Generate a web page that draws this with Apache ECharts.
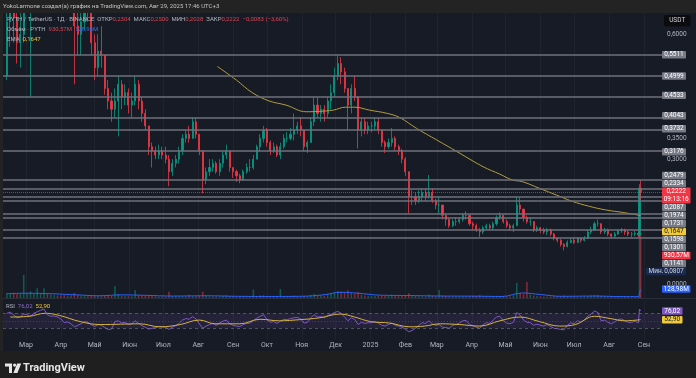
<!DOCTYPE html>
<html>
<head>
<meta charset="utf-8">
<script src="https://cdn.jsdelivr.net/npm/echarts@6/dist/echarts.min.js"></script>
<style>
  html, body { margin: 0; padding: 0; background: #222222; }
  #chart { width: 696px; height: 378px; }
</style>
</head>
<body>
<div id="chart"></div>
<script>
// PYTH / TetherUS, BINANCE. Свечи по 3 дня, последние два дня — дневные
const firstBarDay = '2024-02-13';
const barStepDays = 3;
const extraBarDays = ['2025-08-28', '2025-08-29'];
const firstOpen = 0.50;
const lastOpen = 0.2304;

const closes = [
  0.63, 0.66, 0.64, 0.58, 0.60, 0.70, 0.72, 0.74, 0.82, 0.95,
  1.05, 1.10, 0.95, 0.98, 1.02, 0.98, 0.92, 0.80, 0.82, 0.75,
  0.62, 0.60, 0.63, 0.68, 0.66, 0.58, 0.52, 0.56, 0.55, 0.47,
  0.44, 0.42, 0.44, 0.48, 0.45, 0.46, 0.43, 0.44, 0.48, 0.44,
  0.41, 0.38, 0.33, 0.32, 0.31, 0.32, 0.31, 0.30, 0.27, 0.29,
  0.30, 0.32, 0.35, 0.36, 0.35, 0.39, 0.36, 0.32, 0.25, 0.27,
  0.28, 0.29, 0.27, 0.29, 0.31, 0.32, 0.28, 0.27, 0.26, 0.25,
  0.27, 0.28, 0.28, 0.30, 0.33, 0.35, 0.37, 0.34, 0.32, 0.33,
  0.31, 0.33, 0.35, 0.35, 0.36, 0.37, 0.38, 0.37, 0.33, 0.34,
  0.39, 0.43, 0.41, 0.42, 0.41, 0.44, 0.46, 0.50, 0.53, 0.51,
  0.47, 0.43, 0.47, 0.45, 0.37, 0.39, 0.37, 0.38, 0.38, 0.39,
  0.37, 0.34, 0.33, 0.34, 0.35, 0.33, 0.32, 0.30, 0.27, 0.21,
  0.21, 0.20, 0.21, 0.22, 0.21, 0.22, 0.20, 0.19, 0.19, 0.165,
  0.155, 0.14, 0.15, 0.15, 0.155, 0.165, 0.165, 0.145, 0.14, 0.13,
  0.125, 0.135, 0.14, 0.135, 0.145, 0.16, 0.165, 0.15, 0.14, 0.135,
  0.14, 0.19, 0.18, 0.16, 0.15, 0.15, 0.13, 0.135, 0.13, 0.125,
  0.13, 0.12, 0.11, 0.105, 0.095, 0.09, 0.10, 0.105, 0.10, 0.11,
  0.105, 0.11, 0.125, 0.13, 0.145, 0.145, 0.125, 0.13, 0.12, 0.115,
  0.12, 0.128, 0.13, 0.125, 0.12, 0.12, 0.122, 0.118, 0.2305, 0.2222
];
const highs = [
  0.66, 0.72, 0.70, 0.68, 0.66, 0.74, 0.78, 0.82, 0.88, 1.00,
  1.12, 1.20, 1.10, 1.05, 1.08, 1.06, 1.00, 0.92, 0.86, 0.85,
  0.76, 0.68, 0.66, 0.72, 0.72, 0.67, 0.60, 0.60, 0.62, 0.55,
  0.49, 0.46, 0.47, 0.50, 0.49, 0.48, 0.47, 0.46, 0.50, 0.49,
  0.45, 0.42, 0.38, 0.34, 0.33, 0.335, 0.33, 0.33, 0.31, 0.30,
  0.31, 0.33, 0.36, 0.37, 0.38, 0.40, 0.40, 0.36, 0.32, 0.28,
  0.30, 0.30, 0.295, 0.30, 0.32, 0.335, 0.32, 0.28, 0.275, 0.265,
  0.275, 0.29, 0.30, 0.31, 0.335, 0.36, 0.38, 0.375, 0.345, 0.34,
  0.335, 0.34, 0.36, 0.365, 0.375, 0.41, 0.39, 0.40, 0.37, 0.345,
  0.40, 0.45, 0.45, 0.43, 0.43, 0.45, 0.48, 0.52, 0.55, 0.545,
  0.52, 0.47, 0.48, 0.50, 0.45, 0.40, 0.40, 0.39, 0.39, 0.40,
  0.40, 0.37, 0.345, 0.35, 0.375, 0.355, 0.335, 0.325, 0.305, 0.27,
  0.225, 0.22, 0.225, 0.23, 0.23, 0.262, 0.23, 0.205, 0.21, 0.19,
  0.17, 0.16, 0.155, 0.16, 0.16, 0.17, 0.175, 0.165, 0.15, 0.145,
  0.135, 0.14, 0.145, 0.145, 0.15, 0.165, 0.172, 0.165, 0.155, 0.145,
  0.145, 0.21, 0.208, 0.18, 0.165, 0.16, 0.15, 0.14, 0.137, 0.135,
  0.135, 0.133, 0.123, 0.112, 0.108, 0.098, 0.105, 0.11, 0.112, 0.113,
  0.112, 0.115, 0.13, 0.138, 0.15, 0.155, 0.145, 0.135, 0.133, 0.122,
  0.125, 0.132, 0.135, 0.133, 0.128, 0.125, 0.128, 0.125, 0.24, 0.25
];
const lows = [
  0.49, 0.57, 0.58, 0.53, 0.52, 0.58, 0.66, 0.45, 0.70, 0.82,
  0.92, 0.98, 0.85, 0.88, 0.95, 0.93, 0.88, 0.75, 0.76, 0.70,
  0.48, 0.55, 0.55, 0.61, 0.63, 0.55, 0.49, 0.50, 0.52, 0.455,
  0.42, 0.39, 0.40, 0.355, 0.42, 0.43, 0.41, 0.40, 0.43, 0.42,
  0.39, 0.37, 0.31, 0.28, 0.30, 0.30, 0.30, 0.29, 0.235, 0.26,
  0.28, 0.29, 0.31, 0.34, 0.34, 0.35, 0.35, 0.31, 0.218, 0.24,
  0.26, 0.27, 0.265, 0.26, 0.28, 0.30, 0.27, 0.255, 0.245, 0.242,
  0.25, 0.265, 0.27, 0.275, 0.30, 0.32, 0.34, 0.33, 0.31, 0.315,
  0.305, 0.30, 0.325, 0.34, 0.345, 0.345, 0.36, 0.355, 0.32, 0.315,
  0.34, 0.38, 0.40, 0.39, 0.39, 0.40, 0.42, 0.45, 0.49, 0.48,
  0.46, 0.37, 0.41, 0.44, 0.326, 0.355, 0.36, 0.36, 0.365, 0.37,
  0.36, 0.33, 0.315, 0.325, 0.33, 0.32, 0.31, 0.29, 0.26, 0.17,
  0.19, 0.19, 0.195, 0.20, 0.20, 0.205, 0.195, 0.18, 0.17, 0.155,
  0.14, 0.135, 0.137, 0.14, 0.145, 0.15, 0.155, 0.14, 0.13, 0.125,
  0.113, 0.12, 0.13, 0.13, 0.13, 0.14, 0.155, 0.145, 0.135, 0.128,
  0.125, 0.14, 0.17, 0.15, 0.145, 0.14, 0.125, 0.125, 0.122, 0.12,
  0.118, 0.115, 0.105, 0.10, 0.09, 0.0807, 0.088, 0.098, 0.096, 0.098,
  0.10, 0.102, 0.108, 0.12, 0.128, 0.138, 0.12, 0.12, 0.115, 0.11,
  0.112, 0.118, 0.123, 0.118, 0.115, 0.112, 0.115, 0.112, 0.113, 0.2028
];
// объём, млн PYTH в день
const volumes = [
  70, 60, 75, 55, 65, 330, 70, 95, 60, 140,
  70, 140, 60, 45, 40, 35, 38, 45, 35, 40,
  70, 40, 30, 28, 25, 30, 38, 30, 26, 35,
  30, 28, 170, 55, 35, 30, 25, 25, 115, 35,
  30, 28, 38, 32, 22, 20, 22, 20, 90, 30,
  22, 22, 25, 22, 45, 28, 25, 35, 90, 30,
  22, 20, 20, 22, 28, 40, 25, 20, 20, 22,
  20, 18, 20, 120, 30, 35, 40, 25, 20, 20,
  22, 130, 25, 22, 22, 35, 25, 22, 25, 22,
  45, 60, 45, 35, 35, 50, 65, 80, 100, 90,
  85, 110, 70, 60, 85, 45, 35, 30, 28, 30,
  32, 30, 28, 30, 45, 32, 25, 28, 35, 70,
  40, 30, 25, 22, 22, 50, 28, 22, 115, 35,
  28, 22, 20, 20, 22, 25, 22, 22, 25, 30,
  40, 25, 22, 20, 22, 28, 25, 22, 20, 20,
  40, 215, 70, 55, 230, 50, 35, 28, 25, 22,
  22, 20, 22, 22, 25, 35, 25, 20, 18, 18,
  18, 20, 28, 35, 45, 40, 30, 25, 22, 18,
  18, 20, 22, 20, 18, 18, 18, 20, 1000, 930.57
];
const rsiValues = [
  70, 73, 66, 58, 60, 68, 66, 62, 70, 74,
  78, 81, 66, 62, 63, 60, 55, 45, 47, 42,
  34, 38, 42, 48, 46, 40, 35, 40, 38, 32,
  27, 28, 48, 50, 44, 46, 40, 42, 50, 43,
  37, 33, 28, 30, 32, 35, 34, 33, 27, 33,
  37, 43, 52, 56, 54, 61, 55, 42, 30, 36,
  40, 43, 38, 44, 49, 52, 42, 38, 36, 35,
  40, 43, 44, 50, 57, 62, 66, 54, 46, 48,
  43, 49, 54, 53, 56, 58, 59, 55, 44, 46,
  58, 66, 60, 61, 58, 64, 67, 72, 75, 70,
  60, 50, 58, 54, 40, 46, 43, 45, 45, 48,
  44, 38, 36, 40, 44, 38, 36, 33, 28, 21,
  24, 30, 38, 45, 43, 50, 42, 38, 40, 33,
  32, 30, 38, 40, 44, 50, 51, 40, 37, 33,
  30, 40, 45, 43, 52, 60, 62, 50, 44, 42,
  46, 72, 65, 52, 46, 45, 38, 41, 38, 36,
  40, 35, 30, 29, 27, 26, 38, 45, 42, 50,
  47, 52, 62, 68, 76, 72, 50, 52, 46, 42,
  47, 53, 55, 50, 46, 46, 49, 45, 81, 76.02
];
const emaPoints = [
  ['2024-08-18', 0.523], ['2024-09-04', 0.49], ['2024-09-18', 0.46], ['2024-10-03', 0.44],
  ['2024-10-18', 0.43], ['2024-11-05', 0.414], ['2024-11-17', 0.415], ['2024-11-29', 0.418],
  ['2024-12-10', 0.425], ['2024-12-18', 0.425], ['2024-12-31', 0.418], ['2025-01-16', 0.41],
  ['2025-01-27', 0.40], ['2025-02-11', 0.374], ['2025-03-01', 0.346], ['2025-03-19', 0.318],
  ['2025-04-11', 0.282], ['2025-04-26', 0.264], ['2025-05-07', 0.25], ['2025-05-16', 0.246],
  ['2025-05-31', 0.23], ['2025-06-15', 0.214], ['2025-06-29', 0.199], ['2025-07-14', 0.187],
  ['2025-07-29', 0.178], ['2025-08-13', 0.172], ['2025-08-29', 0.1647]
];
const volMaPoints = [
  ['2024-02-13', 62], ['2024-03-01', 68], ['2024-03-25', 60], ['2024-04-15', 45], ['2024-05-05', 32],
  ['2024-05-25', 45], ['2024-06-15', 38], ['2024-07-10', 28], ['2024-08-08', 32], ['2024-09-05', 24],
  ['2024-10-05', 22], ['2024-11-01', 25], ['2024-11-20', 45], ['2024-12-06', 82], ['2024-12-20', 70],
  ['2025-01-10', 40], ['2025-02-06', 35], ['2025-03-05', 28], ['2025-04-05', 26], ['2025-04-28', 22],
  ['2025-05-16', 72], ['2025-06-01', 50], ['2025-06-20', 24], ['2025-07-20', 28], ['2025-08-12', 20],
  ['2025-08-27', 20], ['2025-08-28', 70], ['2025-08-29', 128.98]
];
const rsiMaPoints = [
  ['2024-02-16', 60], ['2024-03-04', 62], ['2024-03-18', 70], ['2024-03-31', 64], ['2024-04-18', 48],
  ['2024-05-06', 40], ['2024-05-24', 41], ['2024-06-10', 42], ['2024-06-28', 34], ['2024-07-16', 40],
  ['2024-08-02', 52], ['2024-08-16', 42], ['2024-09-07', 42], ['2024-09-25', 54], ['2024-10-12', 50],
  ['2024-10-30', 53], ['2024-11-17', 58], ['2024-12-05', 68], ['2024-12-18', 60], ['2025-01-01', 48],
  ['2025-01-18', 44], ['2025-02-05', 34], ['2025-02-18', 36], ['2025-03-04', 42], ['2025-03-21', 40],
  ['2025-04-08', 36], ['2025-04-26', 50], ['2025-05-14', 60], ['2025-05-31', 48], ['2025-06-18', 36],
  ['2025-07-02', 40], ['2025-07-19', 62], ['2025-08-02', 56], ['2025-08-15', 50], ['2025-08-29', 52.9]
];
// горизонтальные уровни, нарисованные на графике
const levelLines = [0.5511, 0.4999, 0.4533, 0.4043, 0.3732, 0.3176, 0.2479, 0.2334, 0.2087, 0.1974, 0.1731, 0.1598, 0.1301, 0.1141];
const lastChange = -0.0083;
const lastChangePct = -3.60;
const emaLast = 0.1647;
const volMaLast = 128.98;
const visibleMin = 0.0807;
const rsiMaLast = 52.90;
const countdown = '09:13:16';
const priceTicks = [0, 0.3, 0.35, 0.6];
const monthTicks = ['2024-03-01', '2024-04-01', '2024-05-01', '2024-06-01', '2024-07-01', '2024-08-01',
  '2024-09-01', '2024-10-01', '2024-11-01', '2024-12-01', '2025-01-01', '2025-02-01', '2025-03-01',
  '2025-04-01', '2025-05-01', '2025-06-01', '2025-07-01', '2025-08-01', '2025-09-01'];
const monthNames = ['Янв', 'Фев', 'Мар', 'Апр', 'Май', 'Июн', 'Июл', 'Авг', 'Сен', 'Окт', 'Ноя', 'Дек'];

const DAY = 86400000;
const UP = '#089981';
const DOWN = '#f23645';
const FONT = 'Roboto, "Noto Sans", sans-serif';
const fmt = (v, n) => v.toFixed(n).replace('.', ',').replace('-', '−');

const nThree = closes.length - extraBarDays.length;
const barTimes = [];
for (let i = 0; i < nThree; i++) barTimes.push(Date.parse(firstBarDay) + i * barStepDays * DAY);
extraBarDays.forEach(d => barTimes.push(Date.parse(d)));

const candles = closes.map((c, i) => {
  let o = i === 0 ? firstOpen : closes[i - 1];
  if (i === closes.length - 1) o = lastOpen;
  return [barTimes[i], o, c, Math.min(lows[i], o, c), Math.max(highs[i], o, c)];
});
const volData = volumes.map((v, i) => ({
  value: [barTimes[i], v],
  itemStyle: { color: candles[i][2] >= candles[i][1] ? 'rgba(8,153,129,0.5)' : 'rgba(242,54,69,0.5)' }
}));
const toPts = arr => arr.map(p => [Date.parse(p[0]), p[1]]);
const last = candles[candles.length - 1];
const lastVolume = volumes[volumes.length - 1];
const rsiLast = rsiValues[rsiValues.length - 1];

// ось времени как числовая (мс), подписи — по началам месяцев
const xMin = Date.UTC(2024, 1, 9, 14);
const xMax = Date.UTC(2025, 8, 17);
const monthValues = monthTicks.map(d => Date.parse(d));
const monthLabel = v => {
  const d = new Date(v);
  return d.getUTCMonth() === 0 ? String(d.getUTCFullYear()) : monthNames[d.getUTCMonth()];
};
const vGrid = { show: true, lineStyle: { color: 'rgba(255,255,255,0.04)', width: 1 } };

const chart = echarts.init(document.getElementById('chart'));

const option = {
  backgroundColor: '#171b26',
  animation: false,
  grid: [
    { left: 3, right: 34, top: 13, height: 285 },
    { left: 3, right: 34, top: 302, height: 37.6 }
  ],
  xAxis: [
    {
      type: 'value', gridIndex: 0, min: xMin, max: xMax,
      axisLine: { show: false },
      axisTick: { show: false, customValues: monthValues },
      axisLabel: { show: false, customValues: monthValues },
      splitLine: vGrid
    },
    {
      type: 'value', gridIndex: 1, min: xMin, max: xMax,
      axisLine: { show: false },
      axisTick: { show: false, customValues: monthValues },
      axisLabel: {
        customValues: monthValues, formatter: monthLabel,
        color: '#b2b5be', fontSize: 7, fontFamily: FONT, margin: 2, hideOverlap: false
      },
      splitLine: vGrid
    }
  ],
  yAxis: [
    {
      type: 'value', gridIndex: 0, position: 'right', min: -0.0337, max: 0.6514,
      axisLine: { show: false }, axisTick: { show: false }, splitLine: { show: false },
      axisLabel: {
        customValues: priceTicks, formatter: v => fmt(v, 4),
        color: '#b2b5be', fontSize: 6.5, fontFamily: FONT, margin: 5
      }
    },
    { type: 'value', gridIndex: 0, min: 0, max: 4080, show: false },
    { type: 'value', gridIndex: 1, min: 0, max: 100, show: false }
  ],
  series: [
    {
      name: 'Объём', type: 'bar', xAxisIndex: 0, yAxisIndex: 1,
      data: volData, barWidth: 1.6, z: 1
    },
    {
      name: 'Объём MA', type: 'line', xAxisIndex: 0, yAxisIndex: 1,
      data: toPts(volMaPoints), smooth: 0.4, showSymbol: false,
      lineStyle: { color: '#2962ff', width: 1 }, z: 1
    },
    {
      name: 'PYTH', type: 'candlestick', xAxisIndex: 0, yAxisIndex: 0,
      data: candles, encode: { x: 0, y: [1, 2, 3, 4] },
      barWidth: 1.6,
      itemStyle: { color: UP, color0: DOWN, borderColor: UP, borderColor0: DOWN, borderWidth: 0.8 },
      markLine: {
        silent: true, symbol: ['none', 'none'], animation: false,
        label: { show: false },
        data: levelLines.map(v => ({ yAxis: v, lineStyle: { color: '#6f727c', width: 1.5, type: 'solid' } }))
          .concat([{ yAxis: last[2], lineStyle: { color: DOWN, width: 1, type: 'dotted', opacity: 0.7 } }])
      }
    },
    {
      name: 'EMA', type: 'line', xAxisIndex: 0, yAxisIndex: 0,
      data: toPts(emaPoints), smooth: 0.4, showSymbol: false,
      lineStyle: { color: '#b39d3c', width: 1 }
    },
    {
      name: 'RSI', type: 'line', xAxisIndex: 1, yAxisIndex: 2,
      data: rsiValues.map((v, i) => [barTimes[i], v]), showSymbol: false,
      lineStyle: { color: '#7e57c2', width: 1 },
      markArea: {
        silent: true,
        itemStyle: { color: 'rgba(126,87,194,0.12)' },
        data: [[{ yAxis: 30 }, { yAxis: 70 }]]
      },
      markLine: {
        silent: true, symbol: ['none', 'none'], label: { show: false },
        data: [
          { yAxis: 70, lineStyle: { color: 'rgba(120,123,134,0.6)', type: [3, 3], width: 1 } },
          { yAxis: 50, lineStyle: { color: 'rgba(120,123,134,0.35)', type: [1, 2], width: 1 } },
          { yAxis: 30, lineStyle: { color: 'rgba(120,123,134,0.6)', type: [3, 3], width: 1 } }
        ]
      }
    },
    {
      name: 'RSI MA', type: 'line', xAxisIndex: 1, yAxisIndex: 2,
      data: toPts(rsiMaPoints), smooth: 0.4, showSymbol: false,
      lineStyle: { color: '#d6b43c', width: 1 }
    }
  ]
};

chart.setOption(option);

// подписи поверх графика и на шкале цены
const LEG = 6;
const g = [];
const rect = (x, y, w, h, fill, r) => g.push({ type: 'rect', z: 100, shape: { x, y, width: w, height: h, r: r || 0 }, style: { fill } });
const text = (x, y, str, fill, size, align, weight) => g.push({
  type: 'text', z: 101, x, y,
  style: { text: str, fill, fontSize: size, fontFamily: FONT, fontWeight: weight || 'normal', align: align || 'left', verticalAlign: 'middle' }
});
const richText = (x, y, str) => g.push({
  type: 'text', z: 101, x, y,
  style: {
    text: str, fontSize: LEG, fontFamily: FONT, verticalAlign: 'middle', fill: '#b2b5be',
    rich: {
      g: { fill: '#b2b5be', fontSize: LEG, fontFamily: FONT },
      r: { fill: '#e0424f', fontSize: LEG, fontFamily: FONT },
      b: { fill: '#2f6cf0', fontSize: LEG, fontFamily: FONT },
      y: { fill: '#f0c93c', fontSize: LEG, fontFamily: FONT },
      p: { fill: '#8e6bd1', fontSize: LEG, fontFamily: FONT }
    }
  }
});

// рамка: шапка, низ, левая полоса
rect(0, 0, 696, 13, '#232323');
rect(0, 351, 696, 27, '#1f1f1f');
rect(0, 13, 3, 338, '#232323');
g.push({ type: 'line', z: 100, shape: { x1: 3, y1: 298.5, x2: 696, y2: 298.5 }, style: { stroke: '#2a2e39', lineWidth: 1 } });

text(3, 6.5, 'YokoLarmone создал(а) график на TradingView.com, Авг 29, 2025 17:46 UTC+3', '#c4c4c4', 6);

richText(7, 19.5, '{g|PYTH / TetherUS · 1Д · BINANCE}  {g|ОТКР}{r|' + fmt(last[1], 4) + '}  {g|МАКС}{r|' + fmt(last[4], 4) +
  '}  {g|МИН}{r|' + fmt(last[3], 4) + '}  {g|ЗАКР}{r|' + fmt(last[2], 4) + '}  {r|' + fmt(lastChange, 4) + ' (' + fmt(lastChangePct, 2) + '%)}');
richText(7, 29.5, '{g|Объём · PYTH}  {r|' + fmt(lastVolume, 2) + 'M}  {b|' + fmt(volMaLast, 2) + 'M}');
richText(7, 39.5, '{g|EMA}  {y|' + fmt(emaLast, 4) + '}');
richText(6, 306.5, '{g|RSI}  {p|' + fmt(rsiLast, 2) + '}  {y|' + fmt(rsiMaLast, 2) + '}');

// USDT
rect(664, 15, 26.5, 11.5, '#0c0c0e', 2);
text(677.2, 20.8, 'USDT', '#d1d4dc', 6.5, 'center');

// метки справа: текущая цена стоит на месте, остальные раздвигаются от неё
const ROW = 8;
const yPrice = v => chart.convertToPixel({ yAxisIndex: 0 }, v);
const yVol = v => chart.convertToPixel({ yAxisIndex: 1 }, v);
const yRsi = v => chart.convertToPixel({ yAxisIndex: 2 }, v);
const curY = yPrice(last[2]);
const tags = levelLines.map(v => ({ t: yPrice(v), label: fmt(v, 4), bg: '#787b86', fg: '#ffffff', w: 24 }))
  .concat([
    { t: yPrice(emaLast), label: fmt(emaLast, 4), bg: '#f0c93c', fg: '#131722', w: 24 },
    { t: yVol(lastVolume), label: fmt(lastVolume, 2) + 'M', bg: DOWN, fg: '#ffffff', w: 28.5 },
    { t: yPrice(visibleMin), label: fmt(visibleMin, 4), bg: '#1a2a50', fg: '#d1d4dc', w: 24, prefix: 'Мин.' }
  ]);
const above = tags.filter(d => d.t < curY).sort((a, b) => b.t - a.t);
let edge = curY - ROW / 2;
above.forEach(d => { d.y = Math.min(d.t, edge - ROW / 2); edge = d.y - ROW / 2; });
const below = tags.filter(d => d.t >= curY).sort((a, b) => a.t - b.t);
edge = curY + ROW * 1.5;
below.forEach(d => { d.y = Math.max(d.t, edge + ROW / 2); edge = d.y + ROW / 2; });

tags.forEach(d => {
  if (d.prefix) {
    rect(646, d.y - ROW / 2 + 0.3, 40, ROW - 0.6, d.bg, 1);
    text(648.5, d.y, d.prefix, d.fg, 6.5);
  } else {
    rect(662, d.y - ROW / 2 + 0.3, d.w, ROW - 0.6, d.bg, 1);
  }
  text(662 + d.w / 2, d.y, d.label, d.fg, 6.5, 'center');
});
rect(662, curY - ROW / 2, 28.5, ROW * 2, DOWN, 1);
text(676.2, curY, fmt(last[2], 4), '#ffffff', 6.5, 'center');
text(676.2, curY + ROW, countdown, '#ffffff', 6.5, 'center');

// объём MA
const maY = yVol(volMaLast);
rect(662, maY - ROW / 2 + 0.3, 28.5, ROW - 0.6, '#2962ff', 1);
text(676.2, maY, fmt(volMaLast, 2) + 'M', '#ffffff', 6.5, 'center');

// RSI
const r1 = yRsi(rsiLast), r2 = Math.max(yRsi(rsiMaLast), r1 + ROW);
rect(662, r1 - ROW / 2 + 0.3, 20.5, ROW - 0.6, '#7e57c2', 1);
text(672.2, r1, fmt(rsiLast, 2), '#ffffff', 6.5, 'center');
rect(662, r2 - ROW / 2 + 0.3, 20.5, ROW - 0.6, '#f0c93c', 1);
text(672.2, r2, fmt(rsiMaLast, 2), '#131722', 6.5, 'center');

// логотип
g.push({ type: 'polygon', z: 100, shape: { points: [[5, 363.5], [12, 363.5], [12, 373], [9, 373], [9, 366.5], [5, 366.5]] }, style: { fill: '#e6e6e6' } });
g.push({ type: 'circle', z: 100, shape: { cx: 14.6, cy: 365.1, r: 1.6 }, style: { fill: '#e6e6e6' } });
g.push({ type: 'polygon', z: 100, shape: { points: [[17.2, 363.5], [21.2, 363.5], [17.4, 373], [13.4, 373]] }, style: { fill: '#e6e6e6' } });
text(23, 368.5, 'TradingView', '#e6e6e6', 11, 'left', 'bold');

chart.setOption({ graphic: { elements: g } });
</script>
